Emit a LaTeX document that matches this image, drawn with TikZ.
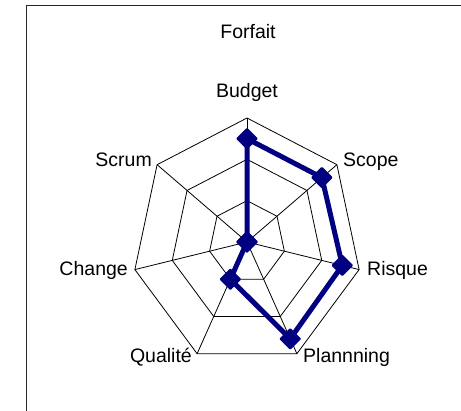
\documentclass[tikz,border=0pt]{standalone}
\usepackage{fontspec}
\setmainfont{Liberation Sans}
\usetikzlibrary{shapes.geometric}
\definecolor{navyline}{RGB}{0,0,128}
\begin{document}
\begin{tikzpicture}[x=1pt,y=-1pt,
  grid/.style={black,line width=0.8pt},
  frameline/.style={draw=black!85,line width=1.5pt},
  lbl/.style={font=\fontsize{19.5}{21}\selectfont,inner sep=0pt},
  datapt/.style={diamond,fill=navyline,draw=navyline,line width=2pt,line join=round,inner sep=0pt,minimum width=20pt,minimum height=20pt},
  dataline/.style={navyline,line width=5pt,line join=miter}]
\useasboundingbox (0,0) rectangle (461,411);
\draw[frameline] (26.5,411) -- (26.5,5.5) -- (461,5.5);
\def\cx{247}\def\cy{242}\def\rx{115}\def\ry{124}
\coordinate (c) at (\cx,\cy);
\foreach \i in {0,...,6}{
  \pgfmathsetmacro\a{90-\i*360/7}
  \foreach \k in {1,2,3}{
    \coordinate (v\k-\i) at ({\cx+\rx*\k/3*cos(\a)},{\cy-\ry*\k/3*sin(\a)});
  }
}
\foreach \k in {1,2,3}{
  \draw[grid] (v\k-0) -- (v\k-1) -- (v\k-2) -- (v\k-3) -- (v\k-4) -- (v\k-5) -- (v\k-6) -- cycle;
}
\foreach \i in {0,...,6}{
  \draw[grid] (c) -- (v3-\i);
}
\foreach \i/\v in {0/2.5,1/2.5,2/2.55,3/2.6,4/1,5/0,6/0}{
  \pgfmathsetmacro\a{90-\i*360/7}
  \node[datapt] (d\i) at ({\cx+\rx*\v/3*cos(\a)},{\cy-\ry*\v/3*sin(\a)}) {};
}
\draw[dataline] (d0.center) -- (d1.center) -- (d2.center) -- (d3.center) -- (d4.center) -- (d5.center) -- (d6.center) -- cycle;
\node[lbl,anchor=base] (title) at (248,39) {Forfait};
\node[lbl,anchor=base] (lb0) at (247,98) {Budget};
\node[lbl,anchor=base west] (lb1) at (343,167) {Scope};
\node[lbl,anchor=base west] (lb2) at (367,276) {Risque};
\node[lbl,anchor=base west] (lb3) at (303,363) {Plannning};
\node[lbl,anchor=base east] (lb4) at (192,363) {Qualité};
\node[lbl,anchor=base east] (lb5) at (128,276) {Change};
\node[lbl,anchor=base east] (lb6) at (152,167) {Scrum};
\end{tikzpicture}
\end{document}
